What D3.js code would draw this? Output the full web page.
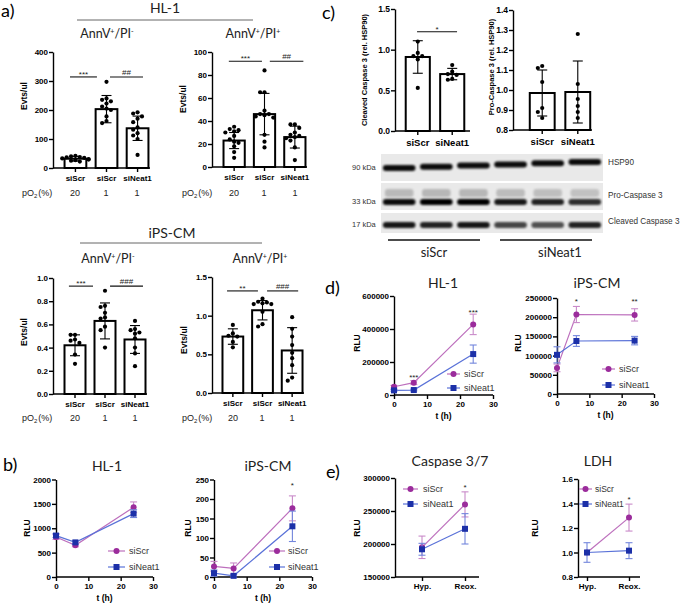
<!DOCTYPE html>
<html>
<head>
<meta charset="utf-8">
<script src="https://cdn.jsdelivr.net/npm/d3@7"></script>
<style>
  body { margin: 0; background: #fff; }
</style>
</head>
<body>
<svg id="fig" width="685" height="604"></svg>
<script>
// ---- data ----
var barGroups = ["siScr", "siScr", "siNeat1"];
var pO2Levels = ["20", "1", "1"];

var hl1NegMean = [32, 203, 137];
var hl1NegSd = [8, 47, 42];
var hl1NegPts = [
  [42, 40, 38, 37, 35, 33, 31, 29, 27, 25, 22],
  [297, 240, 235, 230, 222, 212, 205, 200, 178, 162, 155],
  [192, 188, 178, 170, 158, 140, 132, 120, 112, 100, 45]
];
var hl1PosMean = [23, 46, 26];
var hl1PosSd = [7, 18, 9.5];
var hl1PosPts = [
  [35, 33, 32, 31, 30, 27, 24, 22, 21, 18, 13, 8],
  [84, 65, 65, 49, 46, 46, 45, 44, 43, 28, 22, 17],
  [37, 37, 34, 30, 28, 27, 26, 25, 23, 17, 6]
];
var ipsNegMean = [0.42, 0.63, 0.47];
var ipsNegSd = [0.09, 0.155, 0.12];
var ipsNegPts = [
  [0.51, 0.51, 0.47, 0.46, 0.44, 0.34, 0.26],
  [0.89, 0.76, 0.75, 0.70, 0.66, 0.65, 0.58, 0.55, 0.40],
  [0.63, 0.56, 0.55, 0.53, 0.52, 0.48, 0.40, 0.35, 0.24]
];
var ipsPosMean = [0.73, 1.07, 0.55];
var ipsPosSd = [0.10, 0.125, 0.295];
var ipsPosPts = [
  [0.88, 0.77, 0.74, 0.73, 0.66, 0.59],
  [1.22, 1.18, 1.17, 1.16, 1.15, 1.15, 1.05, 0.89, 0.86],
  [0.98, 0.83, 0.73, 0.62, 0.52, 0.45, 0.36, 0.20, 0.16]
];

var blotGroups = ["siScr", "siNeat1"];
var cleavedMean = [0.91, 0.70];
var cleavedSd = [0.20, 0.07];
var cleavedPts = [[1.10, 0.96, 0.92, 0.92, 0.88, 0.53], [0.81, 0.73, 0.70, 0.69, 0.64, 0.63]];
var proMean = [0.985, 0.99];
var proSd = [0.115, 0.155];
var proPts = [[1.12, 1.11, 1.04, 0.91, 0.89, 0.86], [1.28, 1.03, 0.955, 0.92, 0.89, 0.86]];

// band darkness per lane (siScr x3, siNeat1 x3)
var hsp90Band = [0.95, 0.95, 0.95, 0.95, 0.95, 0.95];
var proBand = [0.95, 1.0, 1.0, 0.9, 0.85, 0.8];
var cleavedBand = [0.9, 0.85, 0.9, 0.7, 0.65, 0.85];

var timeH = [0, 6, 24];
var bHl1Scr = [820, 650, 1430], bHl1ScrErr = [50, 30, 110];
var bHl1Neat = [850, 710, 1300], bHl1NeatErr = [40, 35, 80];
var bIpsScr = [27, 22, 176], bIpsScrErr = [13, 14, 32];
var bIpsNeat = [10, 3, 130], bIpsNeatErr = [8, 3, 39];
var dHl1Scr = [50000, 75000, 428000], dHl1ScrErr = [8000, 12000, 62000];
var dHl1Neat = [28000, 30000, 248000], dHl1NeatErr = [5000, 5000, 55000];
var dIpsScr = [68000, 207000, 206000], dIpsScrErr = [10000, 21000, 16000];
var dIpsNeat = [102000, 138000, 139000], dIpsNeatErr = [21000, 14000, 11000];

var conditions = ["Hyp.", "Reox."];
var eCaspScr = [195000, 260000], eCaspScrErr = [17000, 19000];
var eCaspNeat = [192000, 223000], eCaspNeatErr = [9000, 23000];
var eLdhScr = [1.0, 1.285], eLdhScrErr = [0, 0.11];
var eLdhNeat = [1.0, 1.015], eLdhNeatErr = [0.08, 0.065];

var ticksHl1Neg = [0, 100, 200, 300, 400];
var ticksHl1Pos = [0, 20, 40, 60, 80, 100];
var ticksIpsNeg = [0, 0.2, 0.4, 0.6, 0.8, 1.0];
var ticksHalf = [0, 0.5, 1.0, 1.5];
var ticksPro = [0.8, 0.9, 1.0, 1.1, 1.2, 1.3, 1.4];
var ticksTime = [0, 10, 20, 30];

// ---- drawing ----
var svg = d3.select("#fig");
var FONT = "Liberation Sans, Arial, sans-serif";
var TITLE = "Lato, Carlito, sans-serif";
var scrColor = "#9b2c9c", scrLine = "#bd6fbd", scrErr = "#c98ac9";
var neatColor = "#1c30a8", neatLine = "#5a72d8", neatErr = "#7386dc";

function txt(x, y, s, o) {
  o = o || {};
  return svg.append("text").attr("x", x).attr("y", y).text(s)
    .attr("font-family", o.family || FONT)
    .attr("font-size", o.size || 8)
    .attr("font-weight", o.weight || "normal")
    .attr("text-anchor", o.anchor || "start")
    .attr("fill", o.fill || "#000");
}

function vtxt(x, y, s, size) {
  return svg.append("text").attr("transform", `translate(${x},${y}) rotate(-90)`)
    .attr("text-anchor", "middle").attr("dy", "0.35em").text(s)
    .attr("font-family", FONT).attr("font-size", size || 8.5).attr("font-weight", "bold");
}

function styleAxis(sel, fs) {
  sel.select(".domain").attr("stroke-width", 1.4);
  sel.selectAll(".tick line").attr("stroke-width", 1.4);
  sel.selectAll("text").attr("font-size", fs).attr("font-weight", "bold")
    .attr("font-family", FONT).attr("fill", "#000");
}

function annv(x, y, sign) {
  var t = svg.append("text").attr("x", x).attr("y", y).attr("text-anchor", "middle")
    .attr("font-family", TITLE).attr("font-size", 12.5).attr("fill", "#222");
  t.append("tspan").text("AnnV");
  t.append("tspan").text("+").attr("font-size", 7).attr("dy", -4.5);
  t.append("tspan").text("/PI").attr("dy", 4.5);
  t.append("tspan").text(sign).attr("font-size", 7).attr("dy", -4.5);
}

function pO2Row(xLab, y, xs) {
  var t = svg.append("text").attr("x", xLab).attr("y", y)
    .attr("font-family", FONT).attr("font-size", 9).attr("fill", "#222");
  t.append("tspan").text("pO");
  t.append("tspan").text("2").attr("font-size", 6).attr("dy", 2);
  t.append("tspan").text("(%)").attr("dy", -2).attr("dx", 1);
  pO2Levels.forEach(function (p, i) {
    txt(xs[i], y, p, { size: 9, anchor: "middle", fill: "#222" });
  });
}

// simple swarm: place points side by side when they would overlap
function swarm(vals, y, cx) {
  var placed = [];
  var slots = [0, -4.4, 4.4, -8.8, 8.8, -13.2, 13.2];
  vals.slice().sort(function (a, b) { return b - a; }).forEach(function (v) {
    var py = y(v);
    for (var k = 0; k < slots.length; k++) {
      var px = cx + slots[k];
      var hit = placed.some(function (p) { return Math.hypot(p.x - px, p.y - py) < 4.3; });
      if (!hit || k === slots.length - 1) { placed.push({ x: px, y: py }); break; }
    }
  });
  return placed;
}

function barPanel(o) {
  var g = svg.append("g");
  var y = d3.scaleLinear().domain(o.yDomain).range([o.yBot, o.yTop]);
  var x = d3.scaleBand().domain(d3.range(o.means.length)).range(o.br)
    .paddingInner(0.3).paddingOuter(0.05);
  var bw = x.bandwidth();

  g.selectAll("rect.bar").data(o.means).join("rect")
    .attr("x", function (d, i) { return x(i); })
    .attr("y", function (d) { return y(d); })
    .attr("width", bw)
    .attr("height", function (d) { return y(o.yDomain[0]) - y(d); })
    .attr("fill", "#fff").attr("stroke", "#000").attr("stroke-width", 2);

  o.means.forEach(function (m, i) {
    var cx = x(i) + bw / 2;
    var lo = y(m - o.sds[i]), hi = y(m + o.sds[i]);
    g.append("line").attr("x1", cx).attr("x2", cx).attr("y1", lo).attr("y2", hi)
      .attr("stroke", "#000").attr("stroke-width", 1.1);
    [lo, hi].forEach(function (yy) {
      g.append("line").attr("x1", cx - 5).attr("x2", cx + 5).attr("y1", yy).attr("y2", yy)
        .attr("stroke", "#000").attr("stroke-width", 1.1);
    });
    g.selectAll(null).data(swarm(o.pts[i], y, cx)).join("circle")
      .attr("cx", function (d) { return d.x; }).attr("cy", function (d) { return d.y; })
      .attr("r", 2.1).attr("fill", "#000");
  });

  var ya = g.append("g").attr("transform", `translate(${o.x0},0)`)
    .call(d3.axisLeft(y).tickValues(o.ticks).tickFormat(o.fmt).tickSize(4).tickSizeOuter(0).tickPadding(1));
  styleAxis(ya, o.fs || 8);

  g.append("line").attr("x1", o.x0).attr("x2", o.axisEnd).attr("y1", o.yBot).attr("y2", o.yBot)
    .attr("stroke", "#000").attr("stroke-width", 1.4);
  var xa = g.append("g").attr("transform", `translate(0,${o.yBot})`)
    .call(d3.axisBottom(x).tickFormat(function (i) { return o.labels[i]; }).tickSize(4).tickPadding(o.lpad || 3));
  xa.select(".domain").remove();
  styleAxis(xa, o.ls || 8);

  (o.sig || []).forEach(function (s) {
    var ly = y(o.sigVal);
    var xa1 = x(s.a) + s.fa * bw, xb = x(s.b) + s.fb * bw;
    g.append("line").attr("x1", xa1).attr("x2", xb).attr("y1", ly).attr("y2", ly)
      .attr("stroke", "#111").attr("stroke-width", 1.1);
    txt((xa1 + xb) / 2, ly - (s.t[0] === "#" ? 2 : 0), s.t, { size: 8, anchor: "middle", fill: "#222" });
  });

  vtxt(o.ylab[0], o.ylab[1], o.ylab[2], o.ylab[3]);
  return x;
}

function marker(g, shape, cx, cy, color) {
  if (shape === "circle") {
    g.append("circle").attr("cx", cx).attr("cy", cy).attr("r", 3).attr("fill", color);
  } else {
    g.append("rect").attr("x", cx - 3).attr("y", cy - 3).attr("width", 6).attr("height", 6).attr("fill", color);
  }
}

function linePanel(o) {
  var g = svg.append("g");
  var x = o.cats
    ? d3.scalePoint().domain(o.cats).range(o.xr)
    : d3.scaleLinear().domain([0, 30]).range([o.x0, o.axisEnd]);
  var y = d3.scaleLinear().domain(o.yDomain).range([o.yBot, o.yTop]);
  var xv = o.cats || timeH;

  var ya = g.append("g").attr("transform", `translate(${o.x0},0)`)
    .call(d3.axisLeft(y).tickValues(o.yTicks).tickFormat(o.fmt).tickSize(4).tickSizeOuter(0).tickPadding(1));
  styleAxis(ya, 8);
  var xaxis = o.cats ? d3.axisBottom(x) : d3.axisBottom(x).tickValues(ticksTime).tickFormat(d3.format("d"));
  var xa = g.append("g").attr("transform", `translate(0,${o.yBot})`)
    .call(xaxis.tickSize(4).tickSizeOuter(0).tickPadding(2));
  xa.select(".domain").remove();
  g.append("line").attr("x1", o.x0).attr("x2", o.axisEnd).attr("y1", o.yBot).attr("y2", o.yBot)
    .attr("stroke", "#000").attr("stroke-width", 1.4);
  styleAxis(xa, 8);

  o.series.forEach(function (s) {
    var pts = s.v.map(function (v, i) {
      return { x: x(xv[i]), y: y(v), lo: y(v - s.e[i]), hi: y(v + s.e[i]) };
    });
    g.append("path").datum(pts)
      .attr("d", d3.line().x(function (d) { return d.x; }).y(function (d) { return d.y; }))
      .attr("fill", "none").attr("stroke", s.line).attr("stroke-width", 1.2);
    pts.forEach(function (p) {
      if (p.lo - p.hi < 1) return;
      g.append("line").attr("x1", p.x).attr("x2", p.x).attr("y1", p.lo).attr("y2", p.hi)
        .attr("stroke", s.err).attr("stroke-width", 1.1);
      [p.lo, p.hi].forEach(function (yy) {
        g.append("line").attr("x1", p.x - 3.5).attr("x2", p.x + 3.5).attr("y1", yy).attr("y2", yy)
          .attr("stroke", s.err).attr("stroke-width", 1.1);
      });
    });
    pts.forEach(function (p) { marker(g, s.shape, p.x, p.y, s.color); });
  });

  // legend
  o.series.forEach(function (s, k) {
    var ly = o.leg.y[k];
    g.append("line").attr("x1", o.leg.x0).attr("x2", o.leg.x1).attr("y1", ly).attr("y2", ly)
      .attr("stroke", s.line).attr("stroke-width", 1.2);
    marker(g, s.shape, (o.leg.x0 + o.leg.x1) / 2, ly, s.color);
    txt(o.leg.tx, ly + 3.3, s.name, { size: o.leg.fs || 9, fill: "#333" });
  });

  (o.stars || []).forEach(function (st) {
    txt(x(st.at), y(st.v) + 4.5, st.s, { size: 8, anchor: "middle", fill: "#222" });
  });

  vtxt(o.ylab[0], o.ylab[1], "RLU", 8.5);
  if (!o.cats) txt((o.x0 + o.axisEnd) / 2, o.yBot + 24, "t (h)", { size: 8.5, weight: "bold", anchor: "middle" });
}

// ---- panel a ----
txt(1, 17, "a)", { family: TITLE, size: 18 });
txt(165, 13, "HL-1", { family: TITLE, size: 14, anchor: "middle", fill: "#222" });
svg.append("line").attr("x1", 77).attr("x2", 253).attr("y1", 20).attr("y2", 20).attr("stroke", "#666");
annv(107, 38, "-");
annv(253, 38, "+");

barPanel({ x0: 53, axisEnd: 150, br: [63, 150], yTop: 52, yBot: 168, yDomain: [0, 400],
  ticks: ticksHl1Neg, fmt: d3.format("d"), means: hl1NegMean, sds: hl1NegSd, pts: hl1NegPts,
  labels: barGroups, sigVal: 314, ylab: [24, 96, "Evts/ul"],
  sig: [{ a: 0, b: 1, t: "***", fa: 0.25, fb: 0.06 }, { a: 1, b: 2, t: "##", fa: 0.66, fb: 0.75 }] });
barPanel({ x0: 212, axisEnd: 307, br: [222, 307], yTop: 52, yBot: 167, yDomain: [0, 100],
  ticks: ticksHl1Pos, fmt: d3.format("d"), means: hl1PosMean, sds: hl1PosSd, pts: hl1PosPts,
  labels: barGroups, sigVal: 92, ylab: [183, 99, "Evts/ul"],
  sig: [{ a: 0, b: 1, t: "***", fa: 0.25, fb: 0.38 }, { a: 1, b: 2, t: "##", fa: 0.75, fb: 0.9 }] });
pO2Row(22, 196, [75, 106, 137]);
pO2Row(182, 196, [234, 264, 295]);

txt(172, 238, "iPS-CM", { family: TITLE, size: 14, anchor: "middle", fill: "#222" });
svg.append("line").attr("x1", 80).attr("x2", 262).attr("y1", 243).attr("y2", 243).attr("stroke", "#666");
annv(108, 263, "-");
annv(260, 263, "+");

barPanel({ x0: 53, axisEnd: 147, br: [63, 147], yTop: 278, yBot: 394, yDomain: [0, 1],
  ticks: ticksIpsNeg, fmt: d3.format(".1f"), means: ipsNegMean, sds: ipsNegSd, pts: ipsNegPts,
  labels: barGroups, sigVal: 0.93, ylab: [24, 332, "Evts/ul"],
  sig: [{ a: 0, b: 1, t: "***", fa: 0.21, fb: -0.07 }, { a: 1, b: 2, t: "###", fa: 0.74, fb: 0.88 }] });
barPanel({ x0: 212, axisEnd: 304, br: [221, 304], yTop: 277, yBot: 393, yDomain: [0, 1.5],
  ticks: ticksHalf, fmt: d3.format(".1f"), means: ipsPosMean, sds: ipsPosSd, pts: ipsPosPts,
  labels: barGroups, sigVal: 1.32, ylab: [184, 340, "Evts/ul"],
  sig: [{ a: 0, b: 1, t: "**", fa: 0.22, fb: 0.28 }, { a: 1, b: 2, t: "###", fa: 0.72, fb: 0.79 }] });
pO2Row(22, 421, [75, 105, 135]);
pO2Row(182, 421, [233, 262, 292]);

// ---- panel c ----
txt(322, 19, "c)", { family: TITLE, size: 18 });
barPanel({ x0: 395, axisEnd: 470, br: [404, 466], yTop: 9, yBot: 131, yDomain: [0, 1.5],
  ticks: ticksHalf, fmt: d3.format(".1f"), means: cleavedMean, sds: cleavedSd, pts: cleavedPts,
  labels: blotGroups, sigVal: 1.22, fs: 8.5, ls: 9.5, lpad: 4, ylab: [364, 70, "Cleaved Caspase 3 (rel. HSP90)", 7.5],
  sig: [{ a: 0, b: 1, t: "*", fa: 0.47, fb: 0.7 }] });
barPanel({ x0: 513, axisEnd: 592, br: [528, 592], yTop: 10, yBot: 130, yDomain: [0.8, 1.4],
  ticks: ticksPro, fmt: d3.format(".1f"), means: proMean, sds: proSd, pts: proPts,
  labels: blotGroups, fs: 8.5, ls: 9.5, lpad: 4, ylab: [491, 67, "Pro-Caspase 3 (rel. HSP90)", 7.5] });

// western blot
var defs = svg.append("defs");
defs.append("filter").attr("id", "blur").attr("x", "-20%").attr("y", "-100%").attr("width", "140%").attr("height", "300%")
  .append("feGaussianBlur").attr("stdDeviation", 1.0);
var lane = d3.scaleBand().domain(d3.range(6)).range([381, 603]).paddingInner(0.12).paddingOuter(0.05);
var blotRows = [
  { kda: "90 kDa", name: "HSP90", y0: 154, y1: 181, band: 168, tilt: 1.2, vals: hsp90Band, ty: 165 },
  { kda: "33 kDa", name: "Pro-Caspase 3", y0: 183, y1: 210, band: 202, tilt: 0, vals: proBand, ty: 198, smear: true },
  { kda: "17 kDa", name: "Cleaved Caspase 3", y0: 213, y1: 233, band: 225, tilt: 0, vals: cleavedBand, ty: 224 }
];
blotRows.forEach(function (r) {
  svg.append("rect").attr("x", 381).attr("y", r.y0).attr("width", 222).attr("height", r.y1 - r.y0)
    .attr("fill", "#e9e9e9");
  r.vals.forEach(function (v, i) {
    var by = r.band - i * r.tilt;
    if (r.smear) {
      svg.append("rect").attr("x", lane(i) + 2).attr("y", by - 13).attr("width", lane.bandwidth() - 4).attr("height", 8)
        .attr("rx", 3).attr("fill", "#444").attr("opacity", 0.3 * v).attr("filter", "url(#blur)");
    }
    svg.append("rect").attr("x", lane(i)).attr("y", by - 3).attr("width", lane.bandwidth()).attr("height", 6)
      .attr("rx", 3).attr("fill", "#000").attr("opacity", v).attr("filter", "url(#blur)");
  });
  txt(352, r.band + 2, r.kda, { size: 7.5, fill: "#333" });
  txt(608, r.ty, r.name, { size: 8.2, fill: "#333" });
});
svg.append("line").attr("x1", 388).attr("x2", 480).attr("y1", 240).attr("y2", 240).attr("stroke", "#111").attr("stroke-width", 1.5);
svg.append("line").attr("x1", 500).attr("x2", 592).attr("y1", 240).attr("y2", 240).attr("stroke", "#111").attr("stroke-width", 1.5);
txt(434, 257, "siScr", { family: TITLE, size: 13, anchor: "middle", fill: "#222" });
txt(560, 257, "siNeat1", { family: TITLE, size: 13, anchor: "middle", fill: "#222" });

// ---- panel b ----
function series(scr, scrE, neat, neatE) {
  return [
    { name: "siScr", v: scr, e: scrE, color: scrColor, line: scrLine, err: scrErr, shape: "circle" },
    { name: "siNeat1", v: neat, e: neatE, color: neatColor, line: neatLine, err: neatErr, shape: "square" }
  ];
}
txt(3, 471, "b)", { family: TITLE, size: 18 });
txt(107, 471, "HL-1", { family: TITLE, size: 14, anchor: "middle", fill: "#222" });
txt(268, 471, "iPS-CM", { family: TITLE, size: 14, anchor: "middle", fill: "#222" });
linePanel({ x0: 56, axisEnd: 153, yTop: 479.5, yBot: 577, yDomain: [0, 2000],
  yTicks: [0, 500, 1000, 1500, 2000], fmt: d3.format("d"),
  series: series(bHl1Scr, bHl1ScrErr, bHl1Neat, bHl1NeatErr),
  leg: { x0: 108, x1: 125, tx: 129, y: [551, 567] }, ylab: [27, 528] });
linePanel({ x0: 214, axisEnd: 312, yTop: 479.5, yBot: 577, yDomain: [0, 250],
  yTicks: [0, 50, 100, 150, 200, 250], fmt: d3.format("d"),
  series: series(bIpsScr, bIpsScrErr, bIpsNeat, bIpsNeatErr),
  leg: { x0: 269, x1: 285, tx: 288, y: [551, 567] }, ylab: [188, 528],
  stars: [{ at: 24, v: 241, s: "*" }] });

// ---- panel d ----
txt(325, 294, "d)", { family: TITLE, size: 18 });
txt(443, 288, "HL-1", { family: TITLE, size: 14, anchor: "middle", fill: "#222" });
txt(597, 288, "iPS-CM", { family: TITLE, size: 14, anchor: "middle", fill: "#222" });
linePanel({ x0: 394, axisEnd: 493, yTop: 296, yBot: 395, yDomain: [0, 600000],
  yTicks: [0, 200000, 400000, 600000], fmt: d3.format("d"),
  series: series(dHl1Scr, dHl1ScrErr, dHl1Neat, dHl1NeatErr),
  leg: { x0: 447, x1: 460, tx: 464, y: [374, 388] }, ylab: [357, 343],
  stars: [{ at: 6, v: 118000, s: "***" }, { at: 24, v: 515000, s: "***" }] });
linePanel({ x0: 557, axisEnd: 654, yTop: 298, yBot: 394, yDomain: [0, 250000],
  yTicks: [0, 50000, 100000, 150000, 200000, 250000], fmt: d3.format("d"),
  series: series(dIpsScr, dIpsScrErr, dIpsNeat, dIpsNeatErr),
  leg: { x0: 602, x1: 615, tx: 619, y: [369, 385] }, ylab: [518, 343],
  stars: [{ at: 6, v: 246000, s: "*" }, { at: 24, v: 246000, s: "**" }] });

// ---- panel e ----
txt(326, 478, "e)", { family: TITLE, size: 18 });
txt(450, 466, "Caspase 3/7", { family: TITLE, size: 14, anchor: "middle", fill: "#222" });
txt(598, 466, "LDH", { family: TITLE, size: 14, anchor: "middle", fill: "#222" });
linePanel({ x0: 395, axisEnd: 479, cats: conditions, xr: [422, 465], yTop: 478, yBot: 577,
  yDomain: [150000, 300000], yTicks: [150000, 200000, 250000, 300000], fmt: d3.format("d"),
  series: series(eCaspScr, eCaspScrErr, eCaspNeat, eCaspNeatErr),
  leg: { x0: 403, x1: 418, tx: 423, y: [489, 504] }, ylab: [357, 528],
  stars: [{ at: "Reox.", v: 289000, s: "*" }] });
linePanel({ x0: 578, axisEnd: 640, cats: conditions, xr: [587, 629], yTop: 479, yBot: 577,
  yDomain: [0.8, 1.6], yTicks: [0.8, 1.0, 1.2, 1.4, 1.6], fmt: d3.format(".1f"),
  series: series(eLdhScr, eLdhScrErr, eLdhNeat, eLdhNeatErr),
  leg: { x0: 579, x1: 592, tx: 595, y: [489, 504], fs: 8.5 }, ylab: [535, 528],
  stars: [{ at: "Reox.", v: 1.45, s: "*" }] });
</script>
</body>
</html>
